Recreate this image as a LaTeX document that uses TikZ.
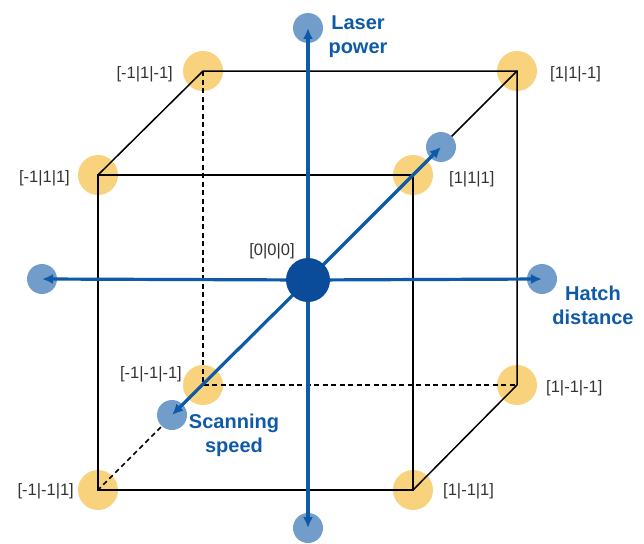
\documentclass[tikz,border=0pt]{standalone}
\usepackage{fontspec}
\setmainfont{Liberation Sans}
\usetikzlibrary{arrows.meta}
\definecolor{axisblue}{HTML}{0F5AA8}
\definecolor{lightblue}{HTML}{729DCB}
\definecolor{ptyellow}{HTML}{F8D27C}
\definecolor{centerblue}{HTML}{0A4C99}
\definecolor{labelgray}{HTML}{333333}
\begin{document}
\begin{tikzpicture}[x=1pt,y=-1pt,
  corner/.style={circle,fill=ptyellow,minimum size=40pt,inner sep=0pt},
  endpt/.style={circle,fill=lightblue,minimum size=30pt,inner sep=0pt},
  centerdot/.style={circle,fill=centerblue,minimum size=44pt,inner sep=0pt},
  cubeedge/.style={line width=1.5pt,black},
  hiddenedge/.style={cubeedge,dash pattern=on 5pt off 3.5pt},
  axisline/.style={line width=3.2pt,axisblue,-{Latex[length=11pt,width=10pt]}},
  lbl/.style={font=\fontsize{16.5}{18}\selectfont,text=labelgray,inner sep=0pt},
  axlbl/.style={font=\bfseries\fontsize{20}{24}\selectfont,text=axisblue,align=center,inner sep=0pt}]
\useasboundingbox (0,0) rectangle (644,543);
% corner points
\node[corner] (ftl) at (98,175) {};
\node[corner] (ftr) at (413,175) {};
\node[corner] (fbl) at (98,490) {};
\node[corner] (fbr) at (413,490) {};
\node[corner] (btl) at (203,71) {};
\node[corner] (btr) at (517,71) {};
\node[corner] (bbl) at (203,385) {};
\node[corner] (bbr) at (517,385) {};
% cube edges
\draw[cubeedge] (ftl.center) -- (ftr.center) -- (fbr.center) -- (fbl.center) -- cycle;
\draw[cubeedge] (ftl.center) -- (btl.center) -- (btr.center) -- (bbr.center);
\draw[cubeedge] (ftr.center) -- (btr.center);
\draw[cubeedge] (fbr.center) -- (bbr.center);
\draw[hiddenedge] (btl.center) -- (bbl.center) -- (bbr.center);
\draw[hiddenedge] (bbl.center) -- (fbl.center);
% axis end points
\node[endpt] (top) at (308,28) {};
\node[endpt] (bottom) at (308,528) {};
\node[endpt] (left) at (42,279) {};
\node[endpt] (right) at (542,279) {};
\node[endpt] (back) at (441,147) {};
\node[endpt] (front) at (172,415) {};
% axes
\coordinate (o) at (308,280);
\draw[axisline] (o) -- (top.center);
\draw[axisline] (o) -- (bottom.center);
\draw[axisline] (o) -- (left.center);
\draw[axisline] (o) -- (right.center);
\draw[axisline] (o) -- (back.center);
\draw[axisline] (o) -- (front.center);
\node[centerdot] (origin) at (o) {};
% corner labels
\node[lbl,anchor=east] (l1) at (173,74) {[-1|1|-1]};
\node[lbl,anchor=west] (l2) at (550,74) {[1|1|-1]};
\node[lbl,anchor=east] (l3) at (70,178) {[-1|1|1]};
\node[lbl,anchor=west] (l4) at (449,179) {[1|1|1]};
\node[lbl] (l0) at (272,251) {[0|0|0]};
\node[lbl,anchor=east] (l5) at (182,374) {[-1|-1|-1]};
\node[lbl,anchor=west] (l6) at (546,388) {[1|-1|-1]};
\node[lbl,anchor=east] (l7) at (74,491) {[-1|-1|1]};
\node[lbl,anchor=west] (l8) at (443,491) {[1|-1|1]};
% axis labels
\node[axlbl] (laser) at (358,37) {Laser\\power};
\node[axlbl] (hatch) at (593,305) {Hatch\\distance};
\node[axlbl] (scan) at (234,435) {Scanning\\speed};
\end{tikzpicture}
\end{document}
